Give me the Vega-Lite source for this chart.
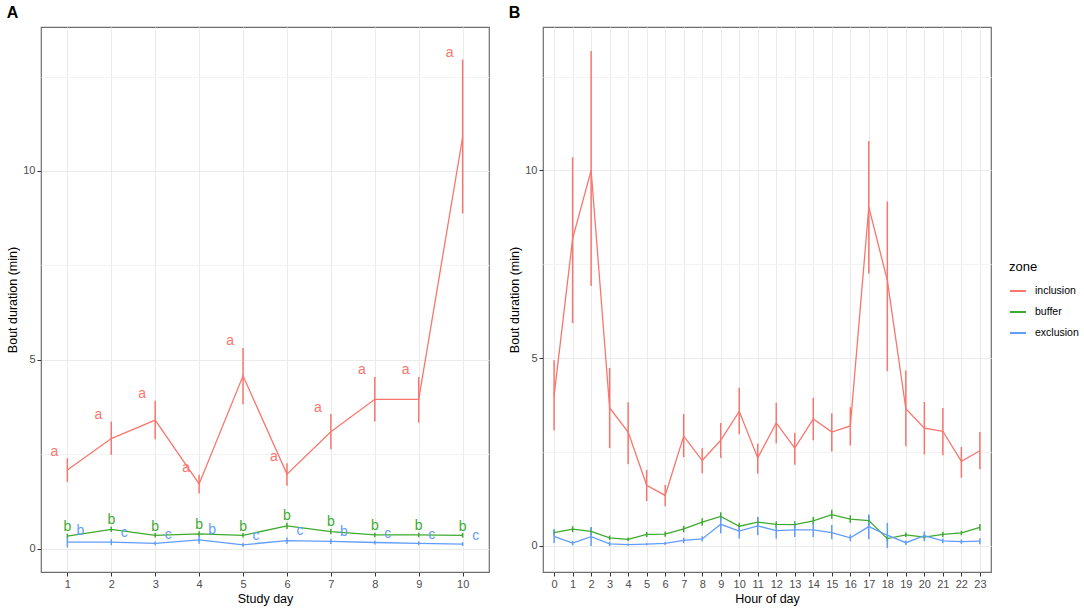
{
  "$schema": "https://vega.github.io/schema/vega-lite/v6.json",
  "padding": {"left": 6, "top": 4, "right": 4, "bottom": 4},
  "background": "white",
  "datasets": {
    "day": [
      {"day": 1, "zone": "inclusion", "mean": 2.09, "lo": 1.77, "hi": 2.40, "letter": "a"},
      {"day": 2, "zone": "inclusion", "mean": 2.92, "lo": 2.49, "hi": 3.37, "letter": "a"},
      {"day": 3, "zone": "inclusion", "mean": 3.41, "lo": 2.90, "hi": 3.92, "letter": "a"},
      {"day": 4, "zone": "inclusion", "mean": 1.72, "lo": 1.47, "hi": 1.96, "letter": "a"},
      {"day": 5, "zone": "inclusion", "mean": 4.58, "lo": 3.83, "hi": 5.32, "letter": "a"},
      {"day": 6, "zone": "inclusion", "mean": 1.98, "lo": 1.67, "hi": 2.27, "letter": "a"},
      {"day": 7, "zone": "inclusion", "mean": 3.10, "lo": 2.64, "hi": 3.57, "letter": "a"},
      {"day": 8, "zone": "inclusion", "mean": 3.96, "lo": 3.37, "hi": 4.55, "letter": "a"},
      {"day": 9, "zone": "inclusion", "mean": 3.96, "lo": 3.34, "hi": 4.55, "letter": "a"},
      {"day": 10, "zone": "inclusion", "mean": 10.9, "lo": 8.88, "hi": 12.95, "letter": "a"},
      {"day": 1, "zone": "buffer", "mean": 0.34, "lo": 0.28, "hi": 0.40, "letter": "b"},
      {"day": 2, "zone": "buffer", "mean": 0.52, "lo": 0.45, "hi": 0.59, "letter": "b"},
      {"day": 3, "zone": "buffer", "mean": 0.36, "lo": 0.30, "hi": 0.42, "letter": "b"},
      {"day": 4, "zone": "buffer", "mean": 0.40, "lo": 0.33, "hi": 0.47, "letter": "b"},
      {"day": 5, "zone": "buffer", "mean": 0.36, "lo": 0.30, "hi": 0.42, "letter": "b"},
      {"day": 6, "zone": "buffer", "mean": 0.61, "lo": 0.53, "hi": 0.69, "letter": "b"},
      {"day": 7, "zone": "buffer", "mean": 0.46, "lo": 0.39, "hi": 0.53, "letter": "b"},
      {"day": 8, "zone": "buffer", "mean": 0.37, "lo": 0.31, "hi": 0.43, "letter": "b"},
      {"day": 9, "zone": "buffer", "mean": 0.37, "lo": 0.31, "hi": 0.43, "letter": "b"},
      {"day": 10, "zone": "buffer", "mean": 0.36, "lo": 0.30, "hi": 0.42, "letter": "b"},
      {"day": 1, "zone": "exclusion", "mean": 0.18, "lo": 0.04, "hi": 0.30, "letter": "b"},
      {"day": 2, "zone": "exclusion", "mean": 0.18, "lo": 0.10, "hi": 0.26, "letter": "c"},
      {"day": 3, "zone": "exclusion", "mean": 0.15, "lo": 0.10, "hi": 0.20, "letter": "c"},
      {"day": 4, "zone": "exclusion", "mean": 0.24, "lo": 0.14, "hi": 0.34, "letter": "b"},
      {"day": 5, "zone": "exclusion", "mean": 0.11, "lo": 0.06, "hi": 0.16, "letter": "c"},
      {"day": 6, "zone": "exclusion", "mean": 0.22, "lo": 0.14, "hi": 0.30, "letter": "c"},
      {"day": 7, "zone": "exclusion", "mean": 0.20, "lo": 0.13, "hi": 0.27, "letter": "b"},
      {"day": 8, "zone": "exclusion", "mean": 0.17, "lo": 0.12, "hi": 0.22, "letter": "c"},
      {"day": 9, "zone": "exclusion", "mean": 0.15, "lo": 0.10, "hi": 0.20, "letter": "c"},
      {"day": 10, "zone": "exclusion", "mean": 0.13, "lo": 0.08, "hi": 0.18, "letter": "c"}
    ],
    "hour": [
      {"hour": 0, "zone": "inclusion", "mean": 4.0, "lo": 3.07, "hi": 4.94},
      {"hour": 1, "zone": "inclusion", "mean": 8.18, "lo": 5.93, "hi": 10.35},
      {"hour": 2, "zone": "inclusion", "mean": 10.0, "lo": 6.92, "hi": 13.18},
      {"hour": 3, "zone": "inclusion", "mean": 3.67, "lo": 2.60, "hi": 4.74},
      {"hour": 4, "zone": "inclusion", "mean": 3.03, "lo": 2.17, "hi": 3.82},
      {"hour": 5, "zone": "inclusion", "mean": 1.61, "lo": 1.19, "hi": 2.02},
      {"hour": 6, "zone": "inclusion", "mean": 1.34, "lo": 1.05, "hi": 1.62},
      {"hour": 7, "zone": "inclusion", "mean": 2.92, "lo": 2.36, "hi": 3.51},
      {"hour": 8, "zone": "inclusion", "mean": 2.27, "lo": 1.93, "hi": 2.60},
      {"hour": 9, "zone": "inclusion", "mean": 2.81, "lo": 2.34, "hi": 3.27},
      {"hour": 10, "zone": "inclusion", "mean": 3.58, "lo": 2.97, "hi": 4.21},
      {"hour": 11, "zone": "inclusion", "mean": 2.34, "lo": 1.92, "hi": 2.72},
      {"hour": 12, "zone": "inclusion", "mean": 3.27, "lo": 2.73, "hi": 3.81},
      {"hour": 13, "zone": "inclusion", "mean": 2.60, "lo": 2.16, "hi": 3.01},
      {"hour": 14, "zone": "inclusion", "mean": 3.38, "lo": 2.81, "hi": 3.94},
      {"hour": 15, "zone": "inclusion", "mean": 3.03, "lo": 2.51, "hi": 3.53},
      {"hour": 16, "zone": "inclusion", "mean": 3.19, "lo": 2.67, "hi": 3.69},
      {"hour": 17, "zone": "inclusion", "mean": 9.02, "lo": 7.25, "hi": 10.78},
      {"hour": 18, "zone": "inclusion", "mean": 7.07, "lo": 4.65, "hi": 9.17},
      {"hour": 19, "zone": "inclusion", "mean": 3.65, "lo": 2.65, "hi": 4.67},
      {"hour": 20, "zone": "inclusion", "mean": 3.13, "lo": 2.43, "hi": 3.83},
      {"hour": 21, "zone": "inclusion", "mean": 3.05, "lo": 2.41, "hi": 3.67},
      {"hour": 22, "zone": "inclusion", "mean": 2.25, "lo": 1.81, "hi": 2.63},
      {"hour": 23, "zone": "inclusion", "mean": 2.53, "lo": 2.04, "hi": 3.03},
      {"hour": 0, "zone": "buffer", "mean": 0.35, "lo": 0.27, "hi": 0.43},
      {"hour": 1, "zone": "buffer", "mean": 0.44, "lo": 0.36, "hi": 0.52},
      {"hour": 2, "zone": "buffer", "mean": 0.38, "lo": 0.27, "hi": 0.49},
      {"hour": 3, "zone": "buffer", "mean": 0.21, "lo": 0.15, "hi": 0.27},
      {"hour": 4, "zone": "buffer", "mean": 0.17, "lo": 0.12, "hi": 0.22},
      {"hour": 5, "zone": "buffer", "mean": 0.30, "lo": 0.23, "hi": 0.37},
      {"hour": 6, "zone": "buffer", "mean": 0.31, "lo": 0.24, "hi": 0.38},
      {"hour": 7, "zone": "buffer", "mean": 0.45, "lo": 0.36, "hi": 0.53},
      {"hour": 8, "zone": "buffer", "mean": 0.63, "lo": 0.53, "hi": 0.73},
      {"hour": 9, "zone": "buffer", "mean": 0.78, "lo": 0.67, "hi": 0.89},
      {"hour": 10, "zone": "buffer", "mean": 0.52, "lo": 0.43, "hi": 0.61},
      {"hour": 11, "zone": "buffer", "mean": 0.63, "lo": 0.52, "hi": 0.74},
      {"hour": 12, "zone": "buffer", "mean": 0.57, "lo": 0.48, "hi": 0.65},
      {"hour": 13, "zone": "buffer", "mean": 0.56, "lo": 0.47, "hi": 0.65},
      {"hour": 14, "zone": "buffer", "mean": 0.66, "lo": 0.56, "hi": 0.77},
      {"hour": 15, "zone": "buffer", "mean": 0.83, "lo": 0.72, "hi": 0.96},
      {"hour": 16, "zone": "buffer", "mean": 0.71, "lo": 0.61, "hi": 0.81},
      {"hour": 17, "zone": "buffer", "mean": 0.67, "lo": 0.53, "hi": 0.81},
      {"hour": 18, "zone": "buffer", "mean": 0.19, "lo": 0.11, "hi": 0.27},
      {"hour": 19, "zone": "buffer", "mean": 0.29, "lo": 0.23, "hi": 0.35},
      {"hour": 20, "zone": "buffer", "mean": 0.23, "lo": 0.16, "hi": 0.30},
      {"hour": 21, "zone": "buffer", "mean": 0.30, "lo": 0.23, "hi": 0.37},
      {"hour": 22, "zone": "buffer", "mean": 0.34, "lo": 0.28, "hi": 0.40},
      {"hour": 23, "zone": "buffer", "mean": 0.49, "lo": 0.40, "hi": 0.58},
      {"hour": 0, "zone": "exclusion", "mean": 0.25, "lo": 0.07, "hi": 0.43},
      {"hour": 1, "zone": "exclusion", "mean": 0.07, "lo": 0.01, "hi": 0.13},
      {"hour": 2, "zone": "exclusion", "mean": 0.24, "lo": -0.01, "hi": 0.49},
      {"hour": 3, "zone": "exclusion", "mean": 0.05, "lo": -0.01, "hi": 0.11},
      {"hour": 4, "zone": "exclusion", "mean": 0.03, "lo": 0.0, "hi": 0.06},
      {"hour": 5, "zone": "exclusion", "mean": 0.04, "lo": 0.01, "hi": 0.07},
      {"hour": 6, "zone": "exclusion", "mean": 0.06, "lo": 0.02, "hi": 0.10},
      {"hour": 7, "zone": "exclusion", "mean": 0.14, "lo": 0.07, "hi": 0.21},
      {"hour": 8, "zone": "exclusion", "mean": 0.18, "lo": 0.11, "hi": 0.25},
      {"hour": 9, "zone": "exclusion", "mean": 0.57, "lo": 0.33, "hi": 0.80},
      {"hour": 10, "zone": "exclusion", "mean": 0.39, "lo": 0.19, "hi": 0.52},
      {"hour": 11, "zone": "exclusion", "mean": 0.53, "lo": 0.28, "hi": 0.77},
      {"hour": 12, "zone": "exclusion", "mean": 0.40, "lo": 0.19, "hi": 0.57},
      {"hour": 13, "zone": "exclusion", "mean": 0.42, "lo": 0.23, "hi": 0.61},
      {"hour": 14, "zone": "exclusion", "mean": 0.42, "lo": 0.23, "hi": 0.61},
      {"hour": 15, "zone": "exclusion", "mean": 0.35, "lo": 0.17, "hi": 0.55},
      {"hour": 16, "zone": "exclusion", "mean": 0.21, "lo": 0.12, "hi": 0.30},
      {"hour": 17, "zone": "exclusion", "mean": 0.51, "lo": 0.17, "hi": 0.83},
      {"hour": 18, "zone": "exclusion", "mean": 0.28, "lo": -0.06, "hi": 0.61},
      {"hour": 19, "zone": "exclusion", "mean": 0.08, "lo": 0.02, "hi": 0.14},
      {"hour": 20, "zone": "exclusion", "mean": 0.27, "lo": 0.12, "hi": 0.38},
      {"hour": 21, "zone": "exclusion", "mean": 0.13, "lo": 0.07, "hi": 0.19},
      {"hour": 22, "zone": "exclusion", "mean": 0.11, "lo": 0.05, "hi": 0.17},
      {"hour": 23, "zone": "exclusion", "mean": 0.12, "lo": 0.04, "hi": 0.20}
    ]
  },
  "hconcat": [
    {
      "width": 448,
      "height": 545,
      "title": {"text": "A"},
      "data": {"name": "day"},
      "encoding": {
        "x": {
          "field": "day", "type": "quantitative",
          "scale": {"domain": [0.4, 10.6], "nice": false, "zero": false},
          "axis": {"title": "Study day", "values": [1, 2, 3, 4, 5, 6, 7, 8, 9, 10]}
        }
      },
      "layer": [
        {
          "mark": {"type": "rule", "strokeWidth": 1.5},
          "encoding": {
            "y": {"field": "lo", "type": "quantitative", "scale": {"domain": [-0.61, 13.81], "nice": false, "zero": false}},
            "y2": {"field": "hi"},
            "color": {"field": "zone", "type": "nominal"}
          }
        },
        {
          "mark": {"type": "line", "strokeWidth": 1.3},
          "encoding": {
            "y": {
              "field": "mean", "type": "quantitative",
              "scale": {"domain": [-0.61, 13.81], "nice": false, "zero": false},
              "axis": {
                "title": "Bout duration (min)",
                "values": [0, 2.5, 5, 7.5, 10, 12.5],
                "labelExpr": "datum.value % 5 === 0 ? format(datum.value, 'd') : ''",
                "tickOpacity": {"condition": {"test": "datum.value % 5 !== 0", "value": 0}, "value": 1},
                "gridColor": {"condition": {"test": "datum.value % 5 !== 0", "value": "#F3F3F3"}, "value": "#EBEBEB"}
              }
            },
            "color": {"field": "zone", "type": "nominal"}
          }
        },
        {
          "transform": [{"filter": "datum.zone === 'inclusion'"}],
          "mark": {"type": "text", "dx": -13, "dy": -6.5, "baseline": "middle", "fontSize": 14, "color": "#F8766D"},
          "encoding": {"y": {"field": "hi", "type": "quantitative"}, "text": {"field": "letter"}}
        },
        {
          "transform": [{"filter": "datum.zone === 'buffer'"}],
          "mark": {"type": "text", "dx": 0, "dy": -6.5, "baseline": "middle", "fontSize": 14, "color": "#3DAA2E"},
          "encoding": {"y": {"field": "hi", "type": "quantitative"}, "text": {"field": "letter"}}
        },
        {
          "transform": [{"filter": "datum.zone === 'exclusion'"}],
          "mark": {"type": "text", "dx": 13, "dy": -6.5, "baseline": "middle", "fontSize": 14, "color": "#619CFF"},
          "encoding": {"y": {"field": "hi", "type": "quantitative"}, "text": {"field": "letter"}}
        }
      ]
    },
    {
      "width": 448,
      "height": 545,
      "title": {"text": "B"},
      "data": {"name": "hour"},
      "encoding": {
        "x": {
          "field": "hour", "type": "quantitative",
          "scale": {"domain": [-0.6, 23.6], "nice": false, "zero": false},
          "axis": {"title": "Hour of day", "values": [0, 1, 2, 3, 4, 5, 6, 7, 8, 9, 10, 11, 12, 13, 14, 15, 16, 17, 18, 19, 20, 21, 22, 23]}
        }
      },
      "layer": [
        {
          "mark": {"type": "rule", "strokeWidth": 1.5},
          "encoding": {
            "y": {"field": "lo", "type": "quantitative", "scale": {"domain": [-0.70, 13.82], "nice": false, "zero": false}},
            "y2": {"field": "hi"},
            "color": {"field": "zone", "type": "nominal"}
          }
        },
        {
          "mark": {"type": "line", "strokeWidth": 1.3},
          "encoding": {
            "y": {
              "field": "mean", "type": "quantitative",
              "scale": {"domain": [-0.70, 13.82], "nice": false, "zero": false},
              "axis": {
                "title": "Bout duration (min)",
                "values": [0, 2.5, 5, 7.5, 10, 12.5],
                "labelExpr": "datum.value % 5 === 0 ? format(datum.value, 'd') : ''",
                "tickOpacity": {"condition": {"test": "datum.value % 5 !== 0", "value": 0}, "value": 1},
                "gridColor": {"condition": {"test": "datum.value % 5 !== 0", "value": "#F3F3F3"}, "value": "#EBEBEB"}
              }
            },
            "color": {
              "field": "zone", "type": "nominal",
              "scale": {"domain": ["inclusion", "buffer", "exclusion"], "range": ["#F8766D", "#3DAA2E", "#619CFF"]},
              "legend": {"title": "zone", "orient": "none", "legendX": 968, "legendY": 234, "symbolType": "stroke"}
            }
          }
        }
      ]
    }
  ],
  "spacing": 18,
  "config": {
    "font": "Liberation Sans",
    "view": {"stroke": "#6E6E6E", "strokeWidth": 1.2},
    "title": {"anchor": "start", "frame": "bounds", "fontSize": 16, "fontWeight": "bold", "color": "#000000", "offset": 6},
    "axis": {
      "domain": false,
      "tickColor": "#333333",
      "tickSize": 4,
      "labelColor": "#4D4D4D",
      "labelFontSize": 11,
      "labelPadding": 2,
      "titleFontSize": 12.5,
      "titleFontWeight": "normal",
      "titleColor": "#000000",
      "titlePadding": 3,
      "gridColor": "#EBEBEB",
      "gridWidth": 1
    },
    "legend": {
      "titleFontSize": 13,
      "titleFontWeight": "normal",
      "titleColor": "#000000",
      "labelFontSize": 10.5,
      "labelColor": "#000000",
      "symbolSize": 256,
      "symbolStrokeWidth": 2,
      "labelOffset": 8,
      "rowPadding": 6,
      "titlePadding": 8
    }
  }
}
